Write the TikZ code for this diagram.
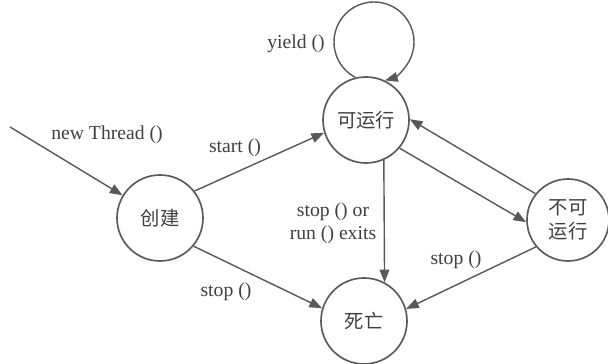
\documentclass[tikz,border=0pt]{standalone}
\usepackage{fontspec}
\setmainfont{Liberation Serif}
\newfontfamily\cjk{Noto Sans CJK SC}
\usetikzlibrary{positioning,arrows.meta}

\begin{document}
\begin{tikzpicture}[x=0.03cm, y=0.03cm,
  state/.style={draw=black!65, circle, line width=1.4pt, inner sep=0pt,
                minimum size=2.58cm, align=center, text=black!75,
                font=\cjk\fontsize{16.5}{21}\selectfont},
  lbl/.style={text=black!75, align=center, inner sep=1pt,
              font=\fontsize{16.8}{20}\selectfont},
  arr/.style={-{Triangle[length=3.8mm, width=2.9mm]}, line width=1.2pt,
              draw=black!65, fill=none}]
\fill[white] (0,0) rectangle (608,364);
\useasboundingbox (0,0) rectangle (608,364);
\node[state] (run) at (366,244) {可运行};
\node[state] (create) at (160,146) {创建};
\node[state] (dead) at (364,43) {死亡};
\node[state, minimum size=2.46cm] (blocked) at (568,144) {不可\\运行};
\coordinate (origin) at (10,237);
\coordinate (lp) at (374,322);
% transitions
\draw[arr] (origin) -- (create);
\draw[arr] (create.38) -- (run.197);
\draw[arr] (create.-40) -- (dead.163);
\draw[arr] (run.-66) -- (dead.62);
\draw[arr] (run.-40) -- (blocked.183);
\draw[arr] (blocked.141) -- (run.1);
\draw[arr] (blocked.220) -- (dead.16);
\draw[arr] (lp) ++(242:40) arc[start angle=242, end angle=-74, radius=40];
% labels
\node[lbl] (l1) at (296,320) {yield ()};
\node[lbl] (l2) at (107,229) {new Thread ()};
\node[lbl] (l3) at (235,216) {start ()};
\node[lbl] (l4) at (333,141) {stop () or\\run () exits};
\node[lbl] (l5) at (226,72) {stop ()};
\node[lbl] (l6) at (456,104) {stop ()};
\end{tikzpicture}
\end{document}
